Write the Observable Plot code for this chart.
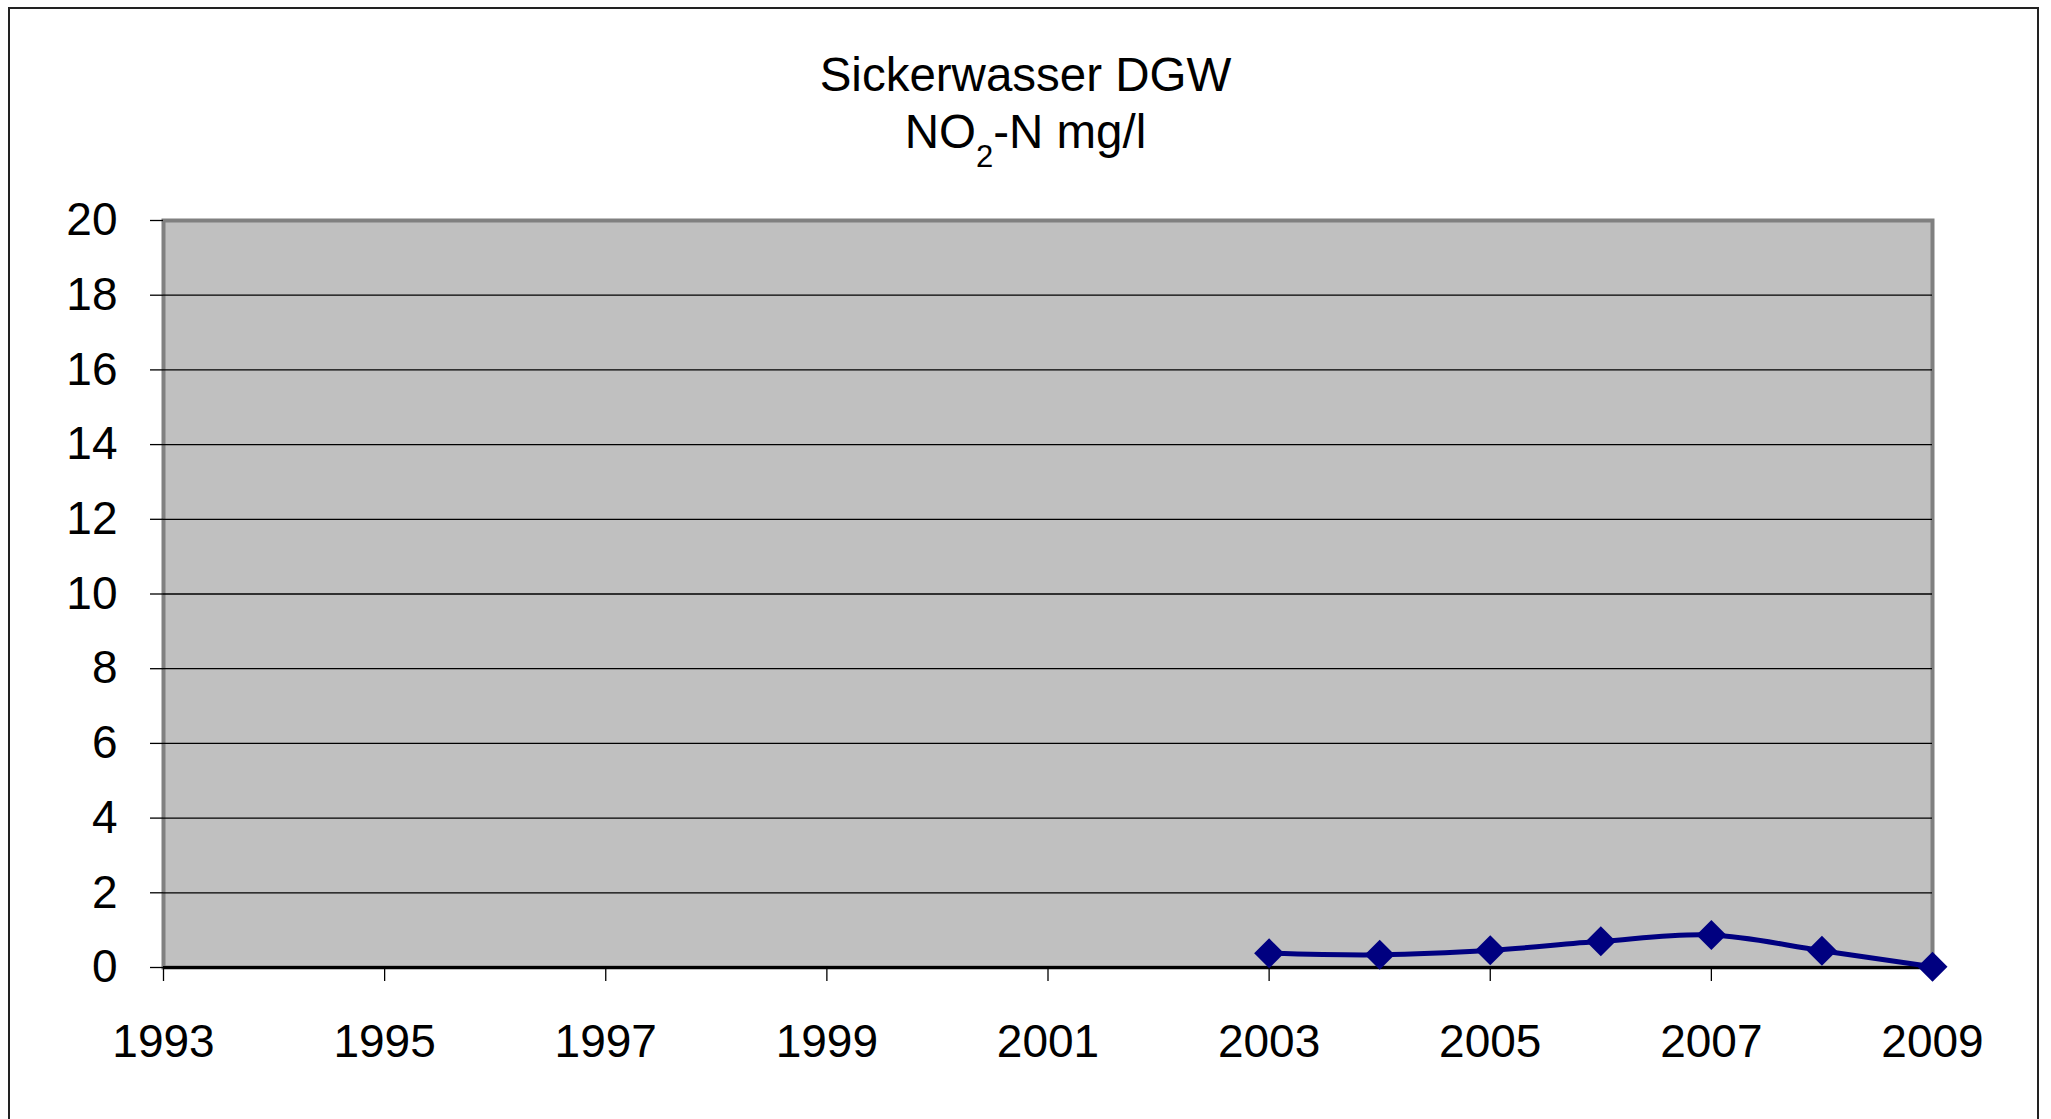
<!DOCTYPE html>
<html>
<head>
<meta charset="utf-8">
<script src="https://cdn.jsdelivr.net/npm/d3@7"></script>
<script src="https://cdn.jsdelivr.net/npm/@observablehq/plot@0.6"></script>
<style>
  html, body { margin: 0; padding: 0; background: #fff; }
  #wrap { position: relative; width: 2051px; height: 1119px; overflow: hidden; font-family: "Liberation Sans", Arial, sans-serif; }
  #border { position: absolute; left: 8px; top: 7px; width: 2031px; height: 1200px; border: 2px solid #222; box-sizing: border-box; }
  #title { position: absolute; left: 9px; width: 2033px; top: 46px; text-align: center; font-size: 47.5px; line-height: 57px; color: #000; }
  #title sub { font-size: 31px; line-height: 0; vertical-align: -19px; }
  #chart { position: absolute; left: 0; top: 0; }
</style>
</head>
<body>
<div id="wrap">
  <div id="border"></div>
  <div id="chart"></div>
  <div id="title">Sickerwasser DGW<br>NO<sub>2</sub>-N mg/l</div>
</div>
<script>
const years = [2003, 2004, 2005, 2006, 2007, 2008, 2009];
const values = [0.38, 0.34, 0.46, 0.70, 0.87, 0.45, 0.02];
const xTicks = [1993, 1995, 1997, 1999, 2001, 2003, 2005, 2007, 2009];
const yTicks = [0, 2, 4, 6, 8, 10, 12, 14, 16, 18, 20];

const data = years.map((y, i) => ({year: y, value: values[i]}));
const gridTicks = yTicks.filter(t => t > 0 && t < 20);

const chart = Plot.plot({
  width: 2051,
  height: 1119,
  marginLeft: 163,
  marginRight: 119,
  marginTop: 220,
  marginBottom: 152,
  style: {fontFamily: "'Liberation Sans', Arial, sans-serif", fontSize: "46px", background: "transparent", color: "#000"},
  x: {domain: [1993, 2009], ticks: xTicks, tickFormat: d => String(d), label: null},
  y: {domain: [0, 20], ticks: yTicks, label: null},
  marks: [
    Plot.frame({fill: "#c0c0c0", stroke: "#808080", strokeWidth: 4}),
    Plot.ruleY(gridTicks, {stroke: "#000", strokeWidth: 1.3}),
    Plot.ruleY([0], {stroke: "#000", strokeWidth: 3}),
    Plot.axisX({ticks: xTicks, tickFormat: d => String(d), tickSize: 14, tickPadding: 43, stroke: "#000", strokeWidth: 1.3, fontSize: 46, label: null}),
    Plot.axisY({ticks: yTicks, tickSize: 13, tickPadding: 33, stroke: "#000", strokeWidth: 1.3, fontSize: 46, label: null}),
    Plot.line(data, {x: "year", y: "value", curve: "catmull-rom", stroke: "#000080", strokeWidth: 5}),
    Plot.dot(data, {x: "year", y: "value", symbol: "diamond2", r: 13.5, fill: "#000080", stroke: "none"})
  ]
});
document.getElementById("chart").appendChild(chart);
</script>
</body>
</html>
